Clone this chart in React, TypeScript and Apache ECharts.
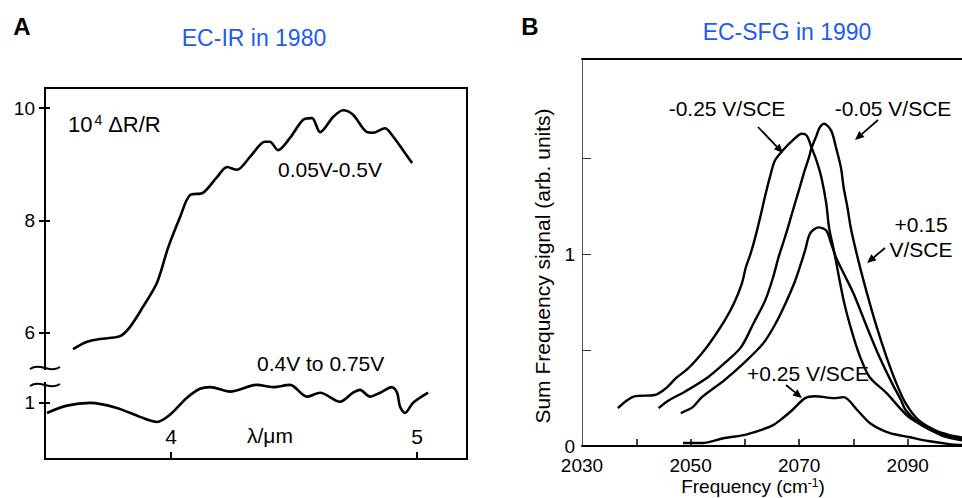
import React, { useEffect, useRef } from "react";
import * as echarts from "echarts";

const FONT = "'Liberation Sans', Arial, Helvetica, sans-serif";
const BLUE = "#1f5bef";

// ---------- Panel A : EC-IR in 1980 ----------
const irHighX = [3.602, 3.659, 3.711, 3.793, 3.833, 3.886, 3.943, 3.988, 4.037, 4.077, 4.130, 4.187, 4.228, 4.268, 4.321, 4.382, 4.402, 4.435, 4.484, 4.537, 4.573, 4.606, 4.659, 4.699, 4.740, 4.797, 4.821, 4.870, 4.898, 4.943, 4.980];
const irHighY = [5.71, 5.84, 5.89, 5.94, 6.10, 6.46, 6.89, 7.51, 8.06, 8.45, 8.49, 8.77, 8.95, 8.90, 9.13, 9.40, 9.40, 9.25, 9.47, 9.79, 9.82, 9.57, 9.84, 9.96, 9.88, 9.57, 9.56, 9.64, 9.52, 9.25, 9.02];
const irLowX = [3.496, 3.577, 3.671, 3.780, 3.874, 3.943, 3.996, 4.065, 4.118, 4.159, 4.240, 4.350, 4.415, 4.484, 4.553, 4.606, 4.687, 4.740, 4.768, 4.809, 4.850, 4.898, 4.919, 4.931, 4.951, 4.984, 5.045];
const irLowY = [0.82, 0.95, 1.00, 0.91, 0.75, 0.66, 0.79, 1.09, 1.25, 1.28, 1.20, 1.32, 1.28, 1.32, 1.11, 1.18, 1.02, 1.18, 1.23, 1.11, 1.18, 1.28, 1.18, 0.93, 0.82, 1.00, 1.18];
const irXTicks = [4, 5];
const irYTicksUpper = [6, 8, 10];
const irYTicksLower = [1];

// ---------- Panel B : EC-SFG in 1990 ----------
const sfgM025X = [2036.6, 2038.4, 2039.8, 2043.4, 2045.5, 2047.3, 2049.6, 2052.1, 2053.9, 2056.3, 2058.0, 2059.46, 2060.18, 2061.07, 2061.96, 2062.86, 2063.75, 2064.64, 2065.54, 2066.96, 2068.75, 2070.5, 2071.4, 2072.3, 2073.2, 2074.1, 2075.0, 2075.5, 2076.4, 2078.2, 2079.8, 2081.25, 2083.0, 2086.1, 2088.4, 2090.2, 2093.2, 2096.1, 2097.7, 2100];
const sfgM025Y = [0.198, 0.240, 0.260, 0.266, 0.302, 0.354, 0.406, 0.484, 0.552, 0.656, 0.745, 0.849, 0.932, 1.005, 1.094, 1.198, 1.307, 1.406, 1.490, 1.542, 1.594, 1.630, 1.620, 1.557, 1.490, 1.401, 1.266, 1.141, 1.021, 0.760, 0.589, 0.464, 0.359, 0.276, 0.203, 0.151, 0.099, 0.057, 0.042, 0.030];
const sfgM005X = [2044.1, 2046.1, 2049.1, 2053.2, 2056.25, 2059.3, 2061.6, 2063.75, 2065.2, 2066.25, 2067.32, 2068.21, 2069.11, 2070.0, 2070.9, 2071.79, 2072.3, 2073.2, 2073.75, 2074.6, 2075.9, 2076.8, 2077.7, 2078.2, 2078.9, 2079.5, 2080.9, 2082.5, 2084.3, 2086.1, 2087.9, 2089.6, 2092.0, 2095.0, 2097.7, 2100];
const sfgM005Y = [0.198, 0.240, 0.286, 0.359, 0.432, 0.516, 0.641, 0.760, 0.880, 0.990, 1.083, 1.167, 1.255, 1.339, 1.427, 1.505, 1.557, 1.620, 1.661, 1.682, 1.646, 1.557, 1.453, 1.349, 1.245, 1.141, 0.969, 0.797, 0.620, 0.464, 0.328, 0.224, 0.135, 0.083, 0.057, 0.045];
const sfgP015X = [2048.2, 2050.4, 2052.1, 2056.25, 2059.8, 2063.4, 2065.7, 2067.5, 2069.3, 2071.1, 2072.0, 2073.6, 2075.0, 2075.9, 2076.8, 2078.4, 2080.0, 2082.5, 2084.8, 2087.1, 2088.75, 2089.6, 2092.0, 2095.0, 2097.7, 2100];
const sfgP015Y = [0.172, 0.203, 0.255, 0.344, 0.432, 0.536, 0.641, 0.745, 0.865, 1.021, 1.109, 1.141, 1.125, 1.057, 0.984, 0.890, 0.797, 0.620, 0.464, 0.328, 0.240, 0.188, 0.120, 0.073, 0.047, 0.035];
const sfgP025X = [2048.6, 2052.1, 2056.25, 2059.8, 2062.9, 2065.2, 2067.0, 2068.75, 2071.1, 2072.9, 2076.4, 2078.2, 2080.7, 2083.0, 2086.6, 2090.2, 2093.75, 2097.7, 2100];
const sfgP025Y = [0.016, 0.016, 0.042, 0.057, 0.083, 0.109, 0.146, 0.188, 0.250, 0.260, 0.250, 0.255, 0.188, 0.120, 0.068, 0.047, 0.026, 0.010, 0.005];
const sfgXLabels = [2030, 2050, 2070, 2090];
const sfgXTicks = [2040, 2050, 2060, 2070, 2080, 2090];
const sfgYLabels = [0, 1];
const sfgYTicks = [0.5, 1, 1.5];

const zip = (xs: number[], ys: number[]) => xs.map((x, i) => [x, ys[i]]);
const plain = (v: number) => String(v);

function arrow(x1: number, y1: number, x2: number, y2: number) {
  const ang = Math.atan2(y2 - y1, x2 - x1);
  const L = 9, W = 4;
  const bx = x2 - L * Math.cos(ang), by = y2 - L * Math.sin(ang);
  const px = -Math.sin(ang) * W, py = Math.cos(ang) * W;
  return [
    { type: "line", z: 100, shape: { x1, y1, x2: bx, y2: by }, style: { stroke: "#000", lineWidth: 1.8 } },
    { type: "polygon", z: 100, shape: { points: [[x2, y2], [bx + px, by + py], [bx - px, by - py]] }, style: { fill: "#000" } },
  ];
}

function txt(text: string, x: number, y: number, size: number, opts: any = {}) {
  return {
    type: "text",
    z: 100,
    x,
    y,
    rotation: opts.rotation || 0,
    style: {
      text,
      fontSize: size,
      fontFamily: FONT,
      fontWeight: opts.weight || "normal",
      fill: opts.color || "#000",
      align: opts.align || "center",
      verticalAlign: "middle",
    },
  };
}

export default function App() {
  const ref = useRef<HTMLDivElement>(null);
  useEffect(() => {
    if (!ref.current) return;
    const chart = echarts.init(ref.current, undefined, { renderer: "svg" });
    const lineStyleA = { color: "#000", width: 2.6 };
    const lineStyleB = { color: "#000", width: 2.4 };
    const irYMin = 3.754, irYMax = 10.356;
    const irY2Min = 0, irY2Max = 6.605;
    const noSplit = { show: false };
    const option: any = {
      animation: false,
      backgroundColor: "#fff",
      textStyle: { fontFamily: FONT },
      grid: [
        { left: 45, top: 88, right: 495, bottom: 39, show: true, borderColor: "#000", borderWidth: 2, backgroundColor: "transparent" },
        { left: 582, top: 59, right: -13, bottom: 52 },
      ],
      xAxis: [
        {
          type: "value", gridIndex: 0, position: "bottom", min: 3.488, max: 5.203,
          axisLine: { show: true, onZero: false, lineStyle: { color: "#000", width: 2 } },
          axisTick: { show: true, inside: true, length: 7, customValues: irXTicks, lineStyle: { color: "#000", width: 2 } },
          axisLabel: { inside: true, margin: 12, customValues: irXTicks, formatter: plain, fontSize: 21, color: "#000", fontFamily: FONT },
          splitLine: noSplit,
        },
        {
          type: "value", gridIndex: 1, position: "bottom", min: 2030, max: 2100,
          axisLine: { show: true, onZero: false, lineStyle: { color: "#000", width: 2 } },
          axisTick: { show: true, inside: true, length: 7, customValues: sfgXTicks, lineStyle: { color: "#000", width: 1.5 } },
          axisLabel: { margin: 10, customValues: sfgXLabels, formatter: plain, fontSize: 19, color: "#000", fontFamily: FONT },
          splitLine: noSplit,
        },
        {
          type: "value", gridIndex: 1, position: "top", min: 2030, max: 2100,
          axisLine: { show: true, onZero: false, lineStyle: { color: "#000", width: 2 } },
          axisTick: { show: false }, axisLabel: { show: false }, splitLine: noSplit,
        },
      ],
      yAxis: [
        {
          type: "value", gridIndex: 0, position: "left", min: irYMin, max: irYMax,
          axisLine: { show: true, onZero: false, lineStyle: { color: "#000", width: 2 } },
          axisTick: { show: true, length: 6, customValues: irYTicksUpper, lineStyle: { color: "#000", width: 2 } },
          axisLabel: { margin: 10, customValues: irYTicksUpper, formatter: plain, fontSize: 19, color: "#000", fontFamily: FONT },
          splitLine: noSplit,
        },
        {
          type: "value", gridIndex: 0, position: "left", min: irY2Min, max: irY2Max,
          axisLine: { show: false, onZero: false },
          axisTick: { show: true, length: 6, customValues: irYTicksLower, lineStyle: { color: "#000", width: 2 } },
          axisLabel: { margin: 10, customValues: irYTicksLower, formatter: plain, fontSize: 19, color: "#000", fontFamily: FONT },
          splitLine: noSplit,
        },
        {
          type: "value", gridIndex: 0, position: "left", min: irYMin, max: irYMax,
          axisLine: { show: false, onZero: false },
          axisTick: { show: true, inside: true, length: 5, customValues: irYTicksUpper, lineStyle: { color: "#000", width: 2 } },
          axisLabel: { show: false }, splitLine: noSplit,
        },
        {
          type: "value", gridIndex: 0, position: "left", min: irY2Min, max: irY2Max,
          axisLine: { show: false, onZero: false },
          axisTick: { show: true, inside: true, length: 5, customValues: irYTicksLower, lineStyle: { color: "#000", width: 2 } },
          axisLabel: { show: false }, splitLine: noSplit,
        },
        {
          type: "value", gridIndex: 1, position: "left", min: 0, max: 2.02,
          axisLine: { show: true, onZero: false, lineStyle: { color: "#555", width: 1 } },
          axisTick: { show: true, inside: true, length: 9, customValues: sfgYTicks, lineStyle: { color: "#333", width: 1 } },
          axisLabel: { margin: 7, customValues: sfgYLabels, formatter: plain, fontSize: 19, color: "#000", fontFamily: FONT },
          splitLine: noSplit,
        },
      ],
      series: [
        { type: "line", name: "0.05V-0.5V", xAxisIndex: 0, yAxisIndex: 0, data: zip(irHighX, irHighY), showSymbol: false, smooth: 0.3, lineStyle: lineStyleA },
        { type: "line", name: "0.4V to 0.75V", xAxisIndex: 0, yAxisIndex: 1, data: zip(irLowX, irLowY), showSymbol: false, smooth: 0.3, lineStyle: lineStyleA },
        { type: "line", name: "-0.25 V/SCE", xAxisIndex: 1, yAxisIndex: 4, data: zip(sfgM025X, sfgM025Y), showSymbol: false, smooth: 0.3, lineStyle: lineStyleB },
        { type: "line", name: "-0.05 V/SCE", xAxisIndex: 1, yAxisIndex: 4, data: zip(sfgM005X, sfgM005Y), showSymbol: false, smooth: 0.3, lineStyle: lineStyleB },
        { type: "line", name: "+0.15 V/SCE", xAxisIndex: 1, yAxisIndex: 4, data: zip(sfgP015X, sfgP015Y), showSymbol: false, smooth: 0.3, lineStyle: lineStyleB },
        { type: "line", name: "+0.25 V/SCE", xAxisIndex: 1, yAxisIndex: 4, data: zip(sfgP025X, sfgP025Y), showSymbol: false, smooth: 0.3, lineStyle: lineStyleB },
      ],
      graphic: [
        txt("A", 22, 26, 24, { weight: "bold" }),
        txt("EC-IR in 1980", 254, 38, 23, { color: BLUE }),
        txt("B", 530, 26, 24, { weight: "bold" }),
        txt("EC-SFG in 1990", 787, 32, 23, { color: BLUE }),
        {
          type: "text", z: 100, x: 68, y: 124,
          style: {
            text: "{a|10}{s|4}{a| ΔR/R}", fontFamily: FONT, fill: "#000", align: "left", verticalAlign: "middle",
            rich: { a: { fontSize: 22, fontFamily: FONT }, s: { fontSize: 14, fontFamily: FONT, verticalAlign: "top", padding: [0, 1, 0, 2] } },
          },
        },
        txt("0.05V-0.5V", 278, 169, 21, { align: "left" }),
        txt("0.4V to 0.75V", 257, 363, 21, { align: "left" }),
        txt("λ/μm", 247, 435, 21, { align: "left" }),
        { type: "rect", z: 100, shape: { x: 40, y: 370, width: 10, height: 12 }, style: { fill: "#fff" } },
        { type: "bezierCurve", z: 101, shape: { x1: 30, y1: 369, cpx1: 40, cpy1: 362, cpx2: 50, cpy2: 374, x2: 60, y2: 367 }, style: { stroke: "#000", lineWidth: 2, fill: "none" } },
        { type: "bezierCurve", z: 101, shape: { x1: 30, y1: 386, cpx1: 40, cpy1: 379, cpx2: 50, cpy2: 391, x2: 60, y2: 384 }, style: { stroke: "#000", lineWidth: 2, fill: "none" } },
        txt("-0.25 V/SCE", 727, 108, 21),
        txt("-0.05 V/SCE", 893, 108, 21),
        txt("+0.15", 921, 224, 21),
        txt("V/SCE", 921, 249, 21),
        txt("+0.25 V/SCE", 808, 373, 21),
        ...arrow(758, 127, 783, 153),
        ...arrow(878, 120, 855, 140),
        ...arrow(885, 248, 867, 263),
        ...arrow(786, 385, 802, 398),
        txt("Sum Frequency signal (arb. units)", 542, 266, 21, { rotation: Math.PI / 2 }),
        {
          type: "text", z: 100, x: 753, y: 486,
          style: {
            text: "{a|Frequency (cm}{s|-1}{a|)}", fontFamily: FONT, fill: "#000", align: "center", verticalAlign: "middle",
            rich: { a: { fontSize: 19, fontFamily: FONT }, s: { fontSize: 12, fontFamily: FONT, verticalAlign: "top" } },
          },
        },
      ],
    };
    chart.setOption(option);
    return () => chart.dispose();
  }, []);
  return <div ref={ref} style={{ position: "fixed", left: 0, top: 0, width: 962, height: 498 }} />;
}
